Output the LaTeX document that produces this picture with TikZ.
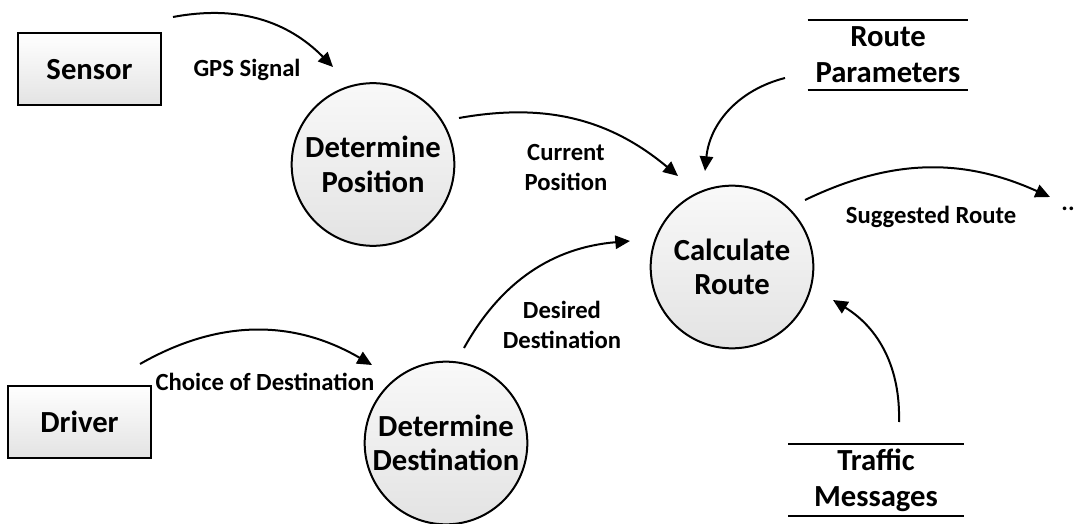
\documentclass[tikz,border=0pt]{standalone}
\usepackage{fontspec}
\setmainfont{Carlito}
\usetikzlibrary{arrows.meta}

\tikzset{
	process/.style={circle, draw, line width=1.5pt, minimum size=122pt, inner sep=0pt,
		top color=gray!5, bottom color=gray!22, align=center,
		font=\fontsize{23}{26}\selectfont\bfseries},
	entity/.style={rectangle, draw, line width=1.5pt, minimum width=107pt, minimum height=54pt,
		top color=white, bottom color=gray!22, font=\fontsize{23}{26}\selectfont\bfseries},
	store/.style={minimum width=120pt, minimum height=52pt, align=center,
		font=\fontsize{23}{27}\selectfont\bfseries},
	storeline/.style={line width=1.5pt},
	flow/.style={-{Triangle[length=11pt,width=10pt]}, line width=1.5pt},
	flowlabel/.style={align=center, font=\fontsize{18.5}{22.5}\selectfont\bfseries}
}

\begin{document}
\begin{tikzpicture}[x=0.75pt, y=-0.75pt]
		\useasboundingbox (0,0) rectangle (1075,524);
		
		% External entities
		\node[entity] (sensor) at (89.5, 69.5) {Sensor};
		\node[entity] (driver) at (79.5, 421.5) {Driver};
		
		% Processes
		\node[process] (detpos) at (373, 164.5) {Determine\\Position};
		\node[process] (detdest) at (446, 443) {Determine\\Destination};
		\node[process] (calc) at (732, 267) {Calculate\\Route};
		
		% Data stores
		\node[store] (params) at (888, 55) {Route\\Parameters};
		\draw[storeline] (params.north west) -- (params.north east);
		\draw[storeline] (params.south west) -- (params.south east);
		\node[store, minimum width=131pt] (traffic) at (876, 480) {Traffic\\Messages};
		\draw[storeline] (traffic.north west) -- (traffic.north east);
		\draw[storeline] (traffic.south west) -- (traffic.south east);
		
		% Flow ends
		\coordinate (gpsA) at (173, 17);
		\coordinate (gpsB) at (333, 67);
		\coordinate (curA) at (459, 118);
		\coordinate (curB) at (678, 176);
		\coordinate (parA) at (785, 78);
		\coordinate (parB) at (705, 171);
		\coordinate (chA) at (140, 364);
		\coordinate (chB) at (372, 365);
		\coordinate (desA) at (464, 348);
		\coordinate (desB) at (630, 241);
		\coordinate (trA) at (899, 422);
		\coordinate (trB) at (833, 300);
		\coordinate (sugA) at (805, 200);
		\coordinate (sugB) at (1050, 197);
		
		% Flows
		\draw[flow] (gpsA) to[bend left=28] (gpsB);
		\draw[flow] (curA) to[bend left=25] (curB);
		\draw[flow] (parA) to[bend right=35] (parB);
		\draw[flow] (chA) to[bend left=30] (chB);
		\draw[flow] (desA) to[bend left=28] (desB);
		\draw[flow] (trA) to[bend right=30] (trB);
		\draw[flow] (sugA) to[bend left=25] (sugB);
		
		% Flow labels
		\node[flowlabel] (gps) at (247, 70) {GPS Signal};
		\node[flowlabel] (cur) at (566, 168) {Current\\Position};
		\node[flowlabel] (des) at (562, 325) {Desired\\Destination};
		\node[flowlabel] (choice) at (265, 382) {Choice of Destination};
		\node[flowlabel] (sugg) at (931, 217) {Suggested Route};
		\node[flowlabel] (dots) at (1068, 209) {..};
	\end{tikzpicture}
\end{document}
